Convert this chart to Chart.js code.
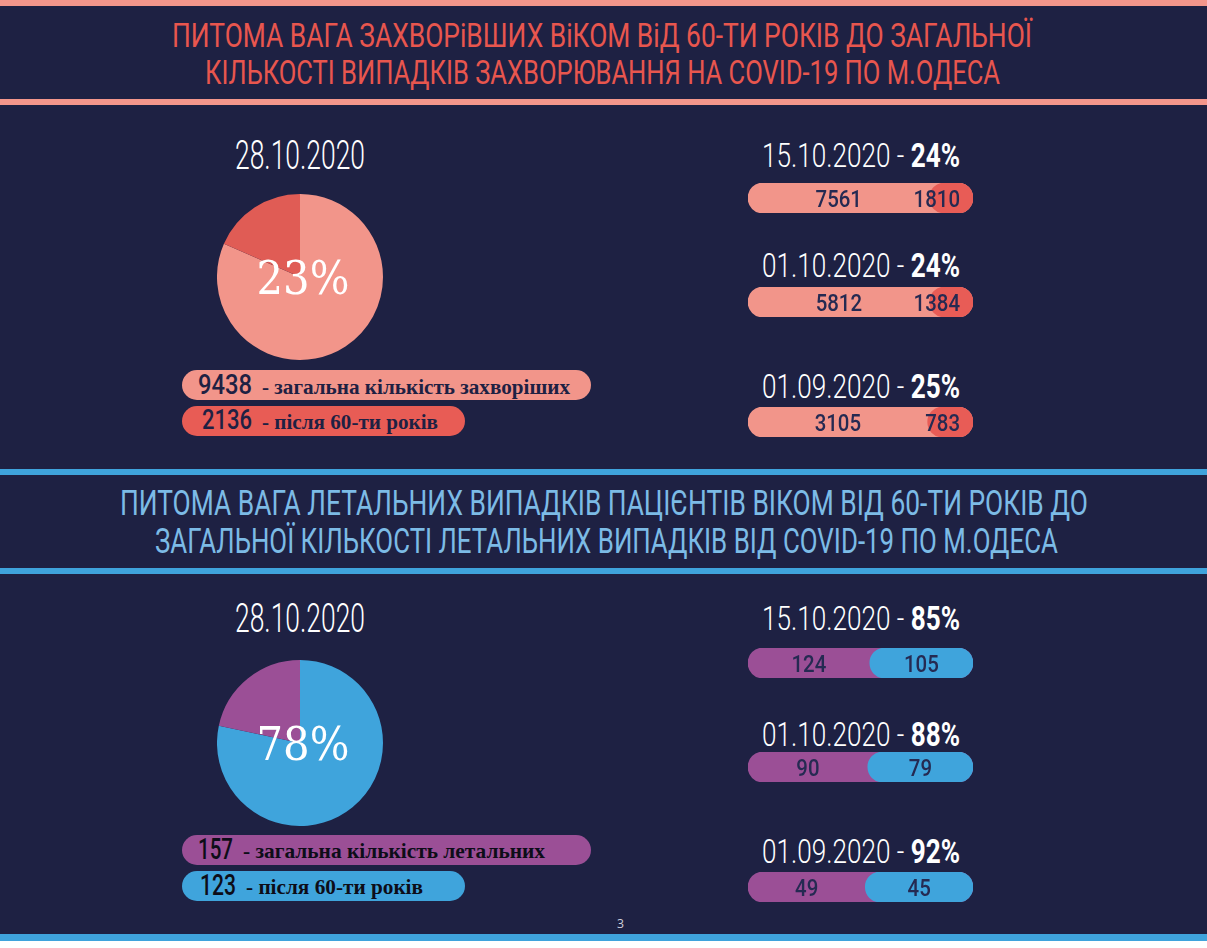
<!DOCTYPE html>
<html lang="uk">
<head>
<meta charset="utf-8">
<title>COVID-19 м.Одеса</title>
<script src="https://cdn.jsdelivr.net/npm/chart.js@4.4.0/dist/chart.umd.min.js"></script>
<style>
html, body { margin: 0; padding: 0; }
body { width: 1207px; height: 948px; background: #1e2143; position: relative; overflow: hidden; font-family: Roboto, sans-serif; }
.line { position: absolute; left: 0; width: 1207px; }
.t { position: absolute; white-space: nowrap; line-height: 1; transform-origin: 0 0; }
.pill { position: absolute; left: 182px; height: 30px; border-radius: 15px; }
.box { position: absolute; }
</style>
</head>
<body>

<div class="line" style="top:0;height:6px;background:#f3968b"></div>
<div class="line" style="top:99px;height:6px;background:#f3968b"></div>
<div class="line" style="top:469px;height:6px;background:#3fa3dc"></div>
<div class="line" style="top:568px;height:6px;background:#3fa3dc"></div>
<div class="line" style="top:934px;height:7px;background:#3fa3dc"></div>
<div class="line" style="top:941px;height:7px;background:#ffffff"></div>

<div class="pill" style="top:370px;width:409px;background:#f2958a"></div>
<div class="pill" style="top:406px;width:283px;background:#e85c55"></div>
<div class="pill" style="top:835px;width:409px;background:#9b4f96"></div>
<div class="pill" style="top:871px;width:283px;background:#3fa4dc"></div>

<div class="box" style="left:217px;top:194px;width:166px;height:166px"><canvas id="casePieChart"></canvas></div>
<div class="box" style="left:217px;top:660px;width:166px;height:166px"><canvas id="deathPieChart"></canvas></div>

<script>
// дані з інфографіки
const pieDate = '28.10.2020';
const rowDates = ['15.10.2020', '01.10.2020', '01.09.2020'];

const caseTotalNow = 9438;
const caseOver60Now = 2136;
const caseShareNow = 23;
const casePie = [9438, 2136];           // сектори як на малюнку
const caseTotals = [7561, 5812, 3105];
const caseOver60 = [1810, 1384, 783];
const caseShares = [24, 24, 25];

const deathTotalNow = 157;
const deathOver60Now = 123;
const deathShareNow = 78;
const deathTotals = [124, 90, 49];
const deathOver60 = [105, 79, 45];
const deathShares = [85, 88, 92];

const caseTitle = ['ПИТОМА ВАГА ЗАХВОРіВШИХ ВіКОМ ВіД 60-ТИ РОКІВ ДО ЗАГАЛЬНОЇ',
                   'КІЛЬКОСТІ ВИПАДКІВ ЗАХВОРЮВАННЯ НА COVID-19 ПО М.ОДЕСА'];
const deathTitle = ['ПИТОМА ВАГА ЛЕТАЛЬНИХ ВИПАДКІВ ПАЦІЄНТІВ ВІКОМ ВІД 60-ТИ РОКІВ ДО',
                    'ЗАГАЛЬНОЇ КІЛЬКОСТІ ЛЕТАЛЬНИХ ВИПАДКІВ ВІД COVID-19 ПО М.ОДЕСА'];

const navy = '#1e2143';

function addText(html, left, base, fs, w, css) {
    const d = document.createElement('div');
    d.className = 't';
    d.innerHTML = html;
    d.style.left = left + 'px';
    d.style.top = (base - 0.84 * fs) + 'px';
    d.style.fontSize = fs + 'px';
    Object.assign(d.style, css || {});
    document.body.appendChild(d);
    const nat = d.getBoundingClientRect().width;
    d.style.transform = 'scaleX(' + (w / nat) + ')';
    return d;
}

// заголовки
addText(caseTitle[0], 172, 47, 33, 860, {color: '#e8564e', fontWeight: 400});
addText(caseTitle[1], 205, 84, 33, 795, {color: '#e8564e', fontWeight: 400});
addText(deathTitle[0], 120, 515, 35, 968, {color: '#7cbbe6', fontWeight: 400});
addText(deathTitle[1], 155, 553, 35, 903, {color: '#7cbbe6', fontWeight: 400});

// дати над кругами
addText(pieDate, 235, 170, 40, 130, {color: '#fff', fontWeight: 300});
addText(pieDate, 235, 633, 40, 130, {color: '#fff', fontWeight: 300});

// підписи під кругами
const serif = {fontFamily: '"Liberation Serif", serif', fontWeight: 700};
addText(String(caseTotalNow), 198, 395, 28, 54, {color: navy, fontWeight: 500});
addText('- загальна кількість захворіших', 262, 395, 21, 308, Object.assign({color: navy}, serif));
addText(String(caseOver60Now), 202, 430, 28, 50, {color: navy, fontWeight: 500});
addText('- після 60-ти років', 262, 430, 21, 176, Object.assign({color: navy}, serif));
addText(String(deathTotalNow), 198, 859, 29, 35, {color: '#0d0d18', fontWeight: 500});
addText('- загальна кількість летальних', 243, 859, 21, 302, Object.assign({color: '#0d0d18'}, serif));
addText(String(deathOver60Now), 200, 895, 29, 36, {color: '#0d0d18', fontWeight: 500});
addText('- після 60-ти років', 246, 895, 21, 177, Object.assign({color: '#0d0d18'}, serif));

// номер сторінки
addText('3', 617, 928, 13, 7, {color: '#cfd0dc', fontFamily: '"Open Sans", sans-serif'});

// текст у центрі круга
const centerText = {
    id: 'centerText',
    afterDatasetsDraw(chart, args, opts) {
        const arc = chart.getDatasetMeta(0).data[0];
        const ctx = chart.ctx;
        ctx.save();
        ctx.fillStyle = '#ffffff';
        ctx.font = '46px "DejaVu Serif", serif';
        ctx.textAlign = 'center';
        ctx.textBaseline = 'alphabetic';
        ctx.translate(arc.x + 3, arc.y + 17);
        const w = ctx.measureText(opts.text).width;
        ctx.scale(93 / w, 1);
        ctx.fillText(opts.text, 0, 0);
        ctx.restore();
    }
};

function makePie(id, values, colors, share) {
    return new Chart(document.getElementById(id), {
        type: 'pie',
        data: {
            labels: ['a', 'b'],
            datasets: [{data: values, backgroundColor: colors, borderWidth: 0}]
        },
        options: {
            animation: false,
            responsive: true,
            maintainAspectRatio: false,
            layout: {padding: 0},
            plugins: {
                legend: {display: false},
                tooltip: {enabled: false},
                centerText: {text: share + '%'}
            }
        },
        plugins: [centerText]
    });
}

makePie('casePieChart', casePie, ['#f2958a', '#e05c55'], caseShareNow);
makePie('deathPieChart', [deathOver60Now, deathTotalNow - deathOver60Now], ['#3fa4dc', '#9b4f96'], deathShareNow);

// підписи всередині смуг
const pillLabels = {
    id: 'pillLabels',
    afterDatasetsDraw(chart, args, opts) {
        const x = chart.scales.x;
        const y = chart.getDatasetMeta(0).data[0].y;
        const ctx = chart.ctx;
        const sx = 0.85;
        ctx.save();
        ctx.fillStyle = '#252a52';
        ctx.font = '500 24px Roboto, sans-serif';
        ctx.textAlign = 'center';
        ctx.textBaseline = 'alphabetic';
        const leftText = String(opts.total);
        const rightText = String(opts.part);
        const end = x.getPixelForValue(opts.total + opts.part);
        const leftX = (x.getPixelForValue(0) + x.getPixelForValue(opts.total)) / 2;
        const rw = ctx.measureText(rightText).width * sx;
        const rightX = Math.min((x.getPixelForValue(opts.total) + end) / 2, end - 13 - rw / 2);
        [[leftX, leftText], [rightX, rightText]].forEach(s => {
            ctx.save();
            ctx.translate(s[0], y + 9);
            ctx.scale(sx, 1);
            ctx.fillText(s[1], 0, 0);
            ctx.restore();
        });
        ctx.restore();
    }
};

function makeRow(top, date, total, part, share, light, dark, dateBase) {
    addText(date + ' - <b style="font-weight:700">' + share + '%</b>', 762, dateBase, 34, 198,
        {color: '#fff', fontWeight: 300});
    const box = document.createElement('div');
    box.className = 'box';
    box.style.left = '748px';
    box.style.top = top + 'px';
    box.style.width = '225px';
    box.style.height = '30px';
    const cv = document.createElement('canvas');
    box.appendChild(cv);
    document.body.appendChild(box);
    new Chart(cv, {
        type: 'bar',
        data: {
            labels: [date],
            datasets: [
                {data: [total + part], backgroundColor: light, order: 2},
                {data: [[total, total + part]], backgroundColor: dark, order: 1}
            ]
        },
        options: {
            indexAxis: 'y',
            animation: false,
            responsive: true,
            maintainAspectRatio: false,
            layout: {padding: 0},
            datasets: {
                bar: {grouped: false, borderRadius: 15, borderSkipped: false, barPercentage: 1, categoryPercentage: 1}
            },
            scales: {
                x: {display: false, min: 0, max: total + part},
                y: {display: false}
            },
            plugins: {
                legend: {display: false},
                tooltip: {enabled: false},
                pillLabels: {total: total, part: part}
            }
        },
        plugins: [pillLabels]
    });
}

const caseTops = [183, 287, 407];
const caseBases = [167, 277, 398];
const deathTops = [648, 752, 872];
const deathBases = [630, 746, 863];

rowDates.forEach((d, i) => {
    makeRow(caseTops[i], d, caseTotals[i], caseOver60[i], caseShares[i], '#f2958a', '#e85c56', caseBases[i]);
    makeRow(deathTops[i], d, deathTotals[i], deathOver60[i], deathShares[i], '#9b4f96', '#3fa4dc', deathBases[i]);
});
</script>
</body>
</html>
